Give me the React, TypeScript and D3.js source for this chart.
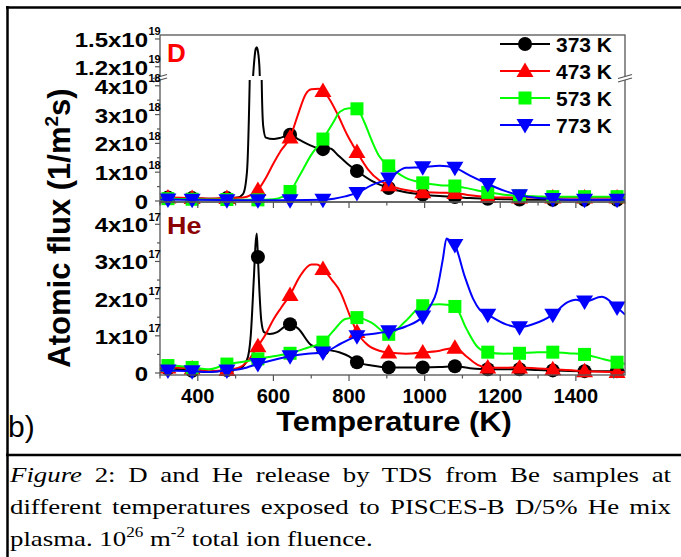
import React, { useLayoutEffect, useRef, useState } from "react";
import * as d3 from "d3";

// temperatures (K) where the symbols sit
const markerT = [321, 385, 477, 559, 644, 731, 821, 905, 995, 1080, 1167, 1251, 1339, 1423, 1509];

// D release, units of 1e18 1/m2s
const dBlack = [[300,0.12],[321,0.12],[350,0.1],[385,0.1],[430,0.08],[477,0.1],[505,0.12],[520,0.25],[530,1.0],[537,4.0],[542,8],[548,12],[553,13.9],[556,14.1],[558,13.9],[563,12],[566,8],[569,4.2],[573,2.6],[580,2.2],[600,2.15],[620,2.2],[644,2.3],[665,2.15],[695,1.95],[731,1.8],[750,1.82],[770,1.6],[795,1.3],[821,1.04],[860,0.7],[905,0.45],[950,0.3],[995,0.22],[1040,0.17],[1080,0.14],[1120,0.1],[1167,0.08],[1210,0.06],[1251,0.05],[1300,0.04],[1339,0.04],[1423,0.04],[1509,0.04],[1530,0.04]];
const dRed = [[300,0.12],[321,0.12],[385,0.1],[430,0.08],[477,0.1],[520,0.12],[540,0.2],[559,0.38],[580,0.8],[600,1.3],[620,1.75],[644,2.2],[665,3.0],[685,3.7],[700,3.88],[720,3.9],[731,3.82],[750,3.5],[770,3.0],[795,2.3],[821,1.7],[850,1.1],[880,0.72],[905,0.55],[950,0.38],[995,0.3],[1040,0.29],[1080,0.28],[1120,0.2],[1167,0.14],[1210,0.12],[1251,0.12],[1300,0.12],[1339,0.12],[1423,0.12],[1509,0.12],[1530,0.12]];
const dGreen = [[300,0.08],[321,0.08],[385,0.06],[430,0.05],[477,0.05],[520,0.04],[559,0.04],[600,0.06],[625,0.15],[644,0.33],[670,0.9],[700,1.6],[731,2.15],[757,2.7],[776,3.1],[800,3.22],[821,3.2],[840,2.75],[860,2.1],[880,1.55],[905,1.22],[950,0.8],[995,0.63],[1040,0.55],[1080,0.52],[1120,0.42],[1167,0.3],[1210,0.22],[1251,0.18],[1300,0.16],[1339,0.15],[1423,0.15],[1509,0.15],[1530,0.15]];
const dBlue = [[300,0.05],[321,0.05],[385,0.04],[477,0.03],[559,0.03],[644,0.03],[731,0.04],[760,0.08],[790,0.16],[821,0.28],[860,0.55],[905,0.78],[950,1.15],[995,1.17],[1040,1.22],[1080,1.15],[1120,0.88],[1167,0.59],[1210,0.36],[1251,0.2],[1300,0.1],[1339,0.07],[1423,0.04],[1509,0.04],[1530,0.04]];

// He release, units of 1e17 1/m2s
const heBlack = [[300,0.12],[321,0.12],[350,0.1],[385,0.06],[430,0.03],[477,0.08],[510,0.12],[530,0.35],[540,1.0],[548,2.5],[553,3.5],[556,3.75],[559,3.12],[563,2.2],[568,1.4],[575,1.1],[590,1.05],[610,1.1],[630,1.25],[644,1.31],[665,1.2],[700,0.75],[731,0.65],[776,0.55],[800,0.45],[821,0.29],[860,0.2],[905,0.15],[950,0.15],[995,0.15],[1040,0.16],[1080,0.18],[1120,0.13],[1167,0.1],[1251,0.1],[1300,0.08],[1339,0.07],[1423,0.05],[1509,0.05],[1530,0.05]];
const heRed = [[300,0.15],[321,0.15],[385,0.12],[430,0.05],[477,0.08],[510,0.15],[530,0.3],[559,0.72],[580,1.05],[600,1.44],[620,1.75],[644,2.1],[670,2.6],[700,2.92],[715,2.92],[731,2.8],[755,2.5],[776,2.2],[800,1.6],[821,1.1],[850,0.75],[880,0.6],[905,0.55],[950,0.52],[995,0.55],[1040,0.6],[1080,0.68],[1110,0.45],[1140,0.22],[1167,0.15],[1210,0.14],[1251,0.15],[1300,0.12],[1339,0.1],[1423,0.05],[1509,0.03],[1530,0.03]];
const heGreen = [[300,0.2],[321,0.2],[385,0.15],[430,0.1],[477,0.24],[520,0.3],[559,0.38],[600,0.45],[644,0.53],[690,0.68],[731,0.83],[760,1.15],[790,1.45],[821,1.49],[860,1.35],[905,1.04],[950,1.4],[995,1.81],[1040,1.85],[1080,1.79],[1110,1.2],[1140,0.7],[1167,0.56],[1210,0.52],[1251,0.53],[1300,0.56],[1339,0.56],[1380,0.53],[1423,0.5],[1470,0.38],[1509,0.29],[1530,0.25]];
const heBlue = [[300,0.07],[321,0.07],[385,0.05],[430,0.03],[477,0.07],[510,0.1],[530,0.15],[559,0.24],[600,0.35],[644,0.45],[690,0.52],[731,0.55],[780,0.8],[821,0.99],[860,1.05],[905,1.12],[950,1.25],[995,1.52],[1015,1.8],[1032,2.2],[1048,3.05],[1058,3.62],[1068,3.55],[1080,3.44],[1106,2.6],[1128,2.0],[1146,1.7],[1167,1.57],[1217,1.3],[1251,1.23],[1286,1.31],[1339,1.57],[1376,1.89],[1400,1.97],[1423,1.92],[1469,2.05],[1509,1.76],[1530,1.57]];

const seriesNames = ["373 K", "473 K", "573 K", "773 K"];
const seriesColors = ["#000000", "#ff0000", "#00ff00", "#0000ff"];
const seriesShapes = ["circle", "triUp", "square", "triDown"];

const xTicksMajor = [400, 600, 800, 1000, 1200, 1400];
const xTicksMinor = [300, 500, 700, 900, 1100, 1300, 1500];
const dTicksLo = [0, 1, 2, 3, 4];
const dTicksLoMinor = [0.5, 1.5, 2.5, 3.5];
const dTicksHi = [12, 15];
const dLabelsHi = [["1.2x10", "19"], ["1.5x10", "19"]];
const heTicks = [0, 1, 2, 3, 4];
const heTicksMinor = [0.5, 1.5, 2.5, 3.5];

const captionLine1 = ["Figure", " 2: D and He release by TDS from Be samples at"];
const captionLine2 = "different temperatures exposed to PISCES-B D/5% He mix";

const FONT = "'Liberation Sans', Arial, sans-serif";
const SERIF = "'Liberation Serif', 'Times New Roman', serif";
const AXIS = "#555";
const CAP_SX = 1.22;
const CAP_W = 661;

const x = d3.scaleLinear().domain([300, 1530]).range([160, 625]);
const yDlo = d3.scaleLinear().domain([-0.035, 4.2]).range([202, 80]);
const yDhi = d3.scaleLinear().domain([11.0, 15.43]).range([76, 35]);
const yHe = d3.scaleLinear().domain([-0.054, 4.6]).range([375, 202]);

function Marker({ shape, cx, cy, color }) {
  if (shape === "circle") return <circle cx={cx} cy={cy} r={7} fill={color} />;
  if (shape === "square")
    return <rect x={cx - 6.5} y={cy - 6.5} width={13} height={13} fill={color} />;
  if (shape === "triUp")
    return <path d={`M${cx},${cy - 8.5}L${cx + 8.5},${cy + 6}L${cx - 8.5},${cy + 6}Z`} fill={color} />;
  return <path d={`M${cx - 8.5},${cy - 6}L${cx + 8.5},${cy - 6}L${cx},${cy + 8.5}Z`} fill={color} />;
}

function lineGen(y) {
  return d3
    .line()
    .x((d) => x(d[0]))
    .y((d) => y(d[1]))
    .curve(d3.curveMonotoneX);
}

function Series({ data, i, y, clip, yHi, clipHi, maxV }) {
  const color = seriesColors[i];
  const marks = data.filter((d) => markerT.includes(d[0]) && d[1] <= maxV);
  return (
    <g>
      <path d={lineGen(y)(data)} fill="none" stroke={color} strokeWidth={2} clipPath={`url(#${clip})`} />
      {yHi && (
        <path d={lineGen(yHi)(data)} fill="none" stroke={color} strokeWidth={2} clipPath={`url(#${clipHi})`} />
      )}
      {marks.map((d, k) => (
        <Marker key={k} shape={seriesShapes[i]} cx={x(d[0])} cy={y(d[1])} color={color} />
      ))}
    </g>
  );
}

// y tick label: base text right-aligned at x=148, exponent hanging after it
function YLabel({ y, base, sup }) {
  return (
    <g fontFamily={FONT} fontWeight="bold" fill="#000">
      <text transform={`translate(148,${y + 8}) scale(1.2,1)`} textAnchor="end" fontSize={20}>
        {base}
      </text>
      {sup && (
        <text x={148.5} y={y - 3.5} fontSize={11}>
          {sup}
        </text>
      )}
    </g>
  );
}

function BreakMark({ cx, cy }) {
  return (
    <g>
      <path d={`M${cx - 7},${cy - 0.5}L${cx + 7},${cy - 4.5}L${cx + 7},${cy - 1}L${cx - 7},${cy + 3}Z`} fill="#fff" />
      <line x1={cx - 7} y1={cy - 0.5} x2={cx + 7} y2={cy - 4.5} stroke={AXIS} strokeWidth={1.2} />
      <line x1={cx - 7} y1={cy + 3} x2={cx + 7} y2={cy - 1} stroke={AXIS} strokeWidth={1.2} />
    </g>
  );
}

export default function App() {
  const dSets = [dBlack, dRed, dGreen, dBlue];
  const heSets = [heBlack, heRed, heGreen, heBlue];
  const l1 = useRef(null);
  const l2 = useRef(null);
  const [ws, setWs] = useState([0, 0]);

  // justify the first two caption lines by widening the word gaps
  useLayoutEffect(() => {
    const fit = (el, text) => {
      if (!el) return 0;
      const w = el.getComputedTextLength();
      const gaps = text.split(" ").length - 1;
      return Math.max(0, (CAP_W / CAP_SX - w) / gaps);
    };
    setWs([fit(l1.current, captionLine1.join("")), fit(l2.current, captionLine2)]);
  }, []);

  return (
    <svg width={681} height={557} style={{ position: "absolute", left: 0, top: 0, background: "#fff" }}>
      <defs>
        <clipPath id="clipLo">
          <rect x={160} y={80} width={465} height={122} />
        </clipPath>
        <clipPath id="clipHi">
          <rect x={160} y={35} width={465} height={41} />
        </clipPath>
        <clipPath id="clipHe">
          <rect x={160} y={202} width={465} height={173} />
        </clipPath>
      </defs>

      {/* outer figure frame */}
      <line x1={7.5} y1={6} x2={7.5} y2={557} stroke="#000" strokeWidth={2.5} />
      <line x1={6} y1={7.5} x2={681} y2={7.5} stroke="#000" strokeWidth={2.5} />
      <line x1={6} y1={455} x2={681} y2={455} stroke="#000" strokeWidth={2.5} />

      {/* series */}
      {dSets.map((data, i) => (
        <Series key={"d" + i} data={data} i={i} y={yDlo} clip="clipLo" yHi={yDhi} clipHi="clipHi" maxV={4.2} />
      ))}
      {heSets.map((data, i) => (
        <Series key={"h" + i} data={data} i={i} y={yHe} clip="clipHe" maxV={4.6} />
      ))}

      {/* frames */}
      <g fill="none" stroke={AXIS} strokeWidth={1.3}>
        <rect x={160} y={35} width={465} height={167} />
        <rect x={160} y={202} width={465} height={173} />
      </g>

      {/* ticks */}
      <g stroke={AXIS} strokeWidth={1.2}>
        {[202, 375].map((yy) => (
          <g key={yy}>
            {xTicksMajor.map((t) => (
              <line key={t} x1={x(t)} x2={x(t)} y1={yy} y2={yy + 6} />
            ))}
            {xTicksMinor.map((t) => (
              <line key={t} x1={x(t)} x2={x(t)} y1={yy} y2={yy + 3.5} />
            ))}
          </g>
        ))}
        {dTicksLo.map((t) => (
          <line key={"dl" + t} x1={155} x2={160} y1={yDlo(t)} y2={yDlo(t)} />
        ))}
        {dTicksLoMinor.map((t) => (
          <line key={"dm" + t} x1={157} x2={160} y1={yDlo(t)} y2={yDlo(t)} />
        ))}
        {dTicksHi.map((t) => (
          <line key={"dh" + t} x1={155} x2={160} y1={yDhi(t)} y2={yDhi(t)} />
        ))}
        {heTicks.map((t) => (
          <line key={"hl" + t} x1={155} x2={160} y1={yHe(t)} y2={yHe(t)} />
        ))}
        {heTicksMinor.map((t) => (
          <line key={"hm" + t} x1={157} x2={160} y1={yHe(t)} y2={yHe(t)} />
        ))}
      </g>

      <BreakMark cx={160} cy={79} />
      <BreakMark cx={625} cy={79} />

      {/* tick labels */}
      {dTicksLo.map((t) => (
        <YLabel key={"ld" + t} y={yDlo(t)} base={t === 0 ? "0" : `${t}x10`} sup={t === 0 ? null : "18"} />
      ))}
      {dTicksHi.map((t, k) => (
        <YLabel key={"lh" + t} y={yDhi(t)} base={dLabelsHi[k][0]} sup={dLabelsHi[k][1]} />
      ))}
      {heTicks.map((t) => (
        <YLabel key={"le" + t} y={yHe(t)} base={t === 0 ? "0" : `${t}x10`} sup={t === 0 ? null : "17"} />
      ))}
      <g fontFamily={FONT} fontWeight="bold" fontSize={20} textAnchor="middle">
        {xTicksMajor.map((t) => (
          <text key={t} x={x(t)} y={403}>
            {t}
          </text>
        ))}
      </g>

      {/* axis titles */}
      <text
        transform="translate(394,431) scale(1.1,1)"
        fontFamily={FONT}
        fontWeight="bold"
        fontSize={28}
        textAnchor="middle"
      >
        Temperature (K)
      </text>
      <text
        transform="translate(70,228) rotate(-90)"
        fontFamily={FONT}
        fontWeight="bold"
        fontSize={31}
        textAnchor="middle"
      >
        Atomic flux (1/m<tspan fontSize={19} dy={-12}>2</tspan>
        <tspan dy={12}>s)</tspan>
      </text>

      {/* panel labels */}
      <text x={167} y={62} fontFamily={FONT} fontWeight="bold" fontSize={26} fill="#ff0000">
        D
      </text>
      <text transform="translate(167,234) scale(1.12,1)" fontFamily={FONT} fontWeight="bold" fontSize={24} fill="#8b0000">
        He
      </text>
      <text x={8} y={437} fontFamily={FONT} fontSize={30}>
        b)
      </text>

      {/* legend */}
      {seriesNames.map((name, i) => {
        const yy = 44 + i * 27;
        return (
          <g key={name}>
            <line x1={500} x2={550} y1={yy} y2={yy} stroke={seriesColors[i]} strokeWidth={2} />
            <Marker shape={seriesShapes[i]} cx={525} cy={yy} color={seriesColors[i]} />
            <text x={556} y={yy + 7.5} fontFamily={FONT} fontWeight="bold" fontSize={21}>
              {name}
            </text>
          </g>
        );
      })}

      {/* caption */}
      <g fontFamily={SERIF} fontSize={22} fill="#000" transform={`translate(10,0) scale(${CAP_SX},1)`}>
        <text ref={l1} x={0} y={482} wordSpacing={ws[0]}>
          <tspan fontStyle="italic">{captionLine1[0]}</tspan>
          {captionLine1[1]}
        </text>
        <text ref={l2} x={0} y={514} wordSpacing={ws[1]}>
          {captionLine2}
        </text>
        <text x={0} y={546}>
          plasma. 10<tspan fontSize={14} dy={-9}>26</tspan>
          <tspan dy={9}> m</tspan>
          <tspan fontSize={14} dy={-9}>-2</tspan>
          <tspan dy={9}> total ion fluence.</tspan>
        </text>
      </g>
    </svg>
  );
}
